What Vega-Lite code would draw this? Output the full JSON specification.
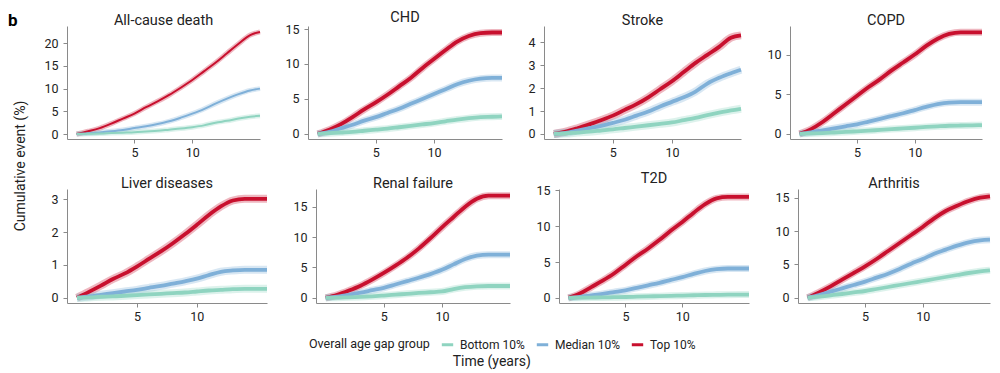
{
  "$schema": "https://vega.github.io/schema/vega-lite/v6.json",
  "padding": {"left": 7, "top": 9, "right": 5, "bottom": 3},
  "title": {"text": "b", "anchor": "start", "fontSize": 17, "fontWeight": "bold", "color": "#000", "offset": -20, "dx": -6, "frame": "bounds"},
  "config": {
    "font": "Roboto",
    "view": {"stroke": null},
    "title": {"fontSize": 14.5, "fontWeight": "normal", "color": "#222", "offset": -2},
    "axis": {"domainColor": "#8a8a8a", "tickColor": "#8a8a8a", "labelColor": "#222", "labelFontSize": 12.5, "tickSize": 4, "labelPadding": 5, "grid": false, "title": null, "minExtent": 0},
    "axisX": {"labelPadding": 3},
    "line": {"clip": true, "strokeJoin": "round", "interpolate": "monotone"},
    "legend": {"orient": "none", "legendX": 242, "legendY": 311, "direction": "horizontal", "titleOrient": "left", "titleFontSize": 12.5, "titleFontWeight": "normal", "titleColor": "#222", "labelFontSize": 12, "labelColor": "#222", "symbolType": "stroke", "symbolStrokeWidth": 3, "symbolSize": 130, "symbolOpacity": 1, "columnPadding": 10, "titlePadding": 10, "labelOffset": 5}
  },
  "datasets": {
    "ac": [
      {"g":"Top 10%","t":0,"v":0},{"g":"Top 10%","t":1,"v":0.6},{"g":"Top 10%","t":2,"v":1.3},{"g":"Top 10%","t":3,"v":2.3},{"g":"Top 10%","t":4,"v":3.4},{"g":"Top 10%","t":5,"v":4.5},{"g":"Top 10%","t":6,"v":5.9},{"g":"Top 10%","t":7,"v":7.2},{"g":"Top 10%","t":8,"v":8.6},{"g":"Top 10%","t":9,"v":10.2},{"g":"Top 10%","t":10,"v":11.9},{"g":"Top 10%","t":11,"v":13.8},{"g":"Top 10%","t":12,"v":15.7},{"g":"Top 10%","t":13,"v":17.8},{"g":"Top 10%","t":14,"v":19.9},{"g":"Top 10%","t":15,"v":21.8},{"g":"Top 10%","t":15.85,"v":22.5},
      {"g":"Median 10%","t":0,"v":0},{"g":"Median 10%","t":1,"v":0.15},{"g":"Median 10%","t":2,"v":0.35},{"g":"Median 10%","t":3,"v":0.6},{"g":"Median 10%","t":4,"v":0.9},{"g":"Median 10%","t":5,"v":1.3},{"g":"Median 10%","t":6,"v":1.7},{"g":"Median 10%","t":7,"v":2.2},{"g":"Median 10%","t":8,"v":2.8},{"g":"Median 10%","t":9,"v":3.6},{"g":"Median 10%","t":10,"v":4.5},{"g":"Median 10%","t":11,"v":5.5},{"g":"Median 10%","t":12,"v":6.7},{"g":"Median 10%","t":13,"v":7.8},{"g":"Median 10%","t":14,"v":8.8},{"g":"Median 10%","t":15,"v":9.6},{"g":"Median 10%","t":15.85,"v":10.0},
      {"g":"Bottom 10%","t":0,"v":0},{"g":"Bottom 10%","t":1,"v":0.05},{"g":"Bottom 10%","t":2,"v":0.1},{"g":"Bottom 10%","t":3,"v":0.2},{"g":"Bottom 10%","t":4,"v":0.3},{"g":"Bottom 10%","t":5,"v":0.4},{"g":"Bottom 10%","t":6,"v":0.55},{"g":"Bottom 10%","t":7,"v":0.7},{"g":"Bottom 10%","t":8,"v":0.95},{"g":"Bottom 10%","t":9,"v":1.2},{"g":"Bottom 10%","t":10,"v":1.5},{"g":"Bottom 10%","t":11,"v":1.9},{"g":"Bottom 10%","t":12,"v":2.5},{"g":"Bottom 10%","t":13,"v":2.9},{"g":"Bottom 10%","t":14,"v":3.4},{"g":"Bottom 10%","t":15,"v":3.8},{"g":"Bottom 10%","t":15.85,"v":4.0}
    ],
    "chd": [
      {"g":"Top 10%","t":0,"v":0},{"g":"Top 10%","t":1,"v":0.6},{"g":"Top 10%","t":2,"v":1.4},{"g":"Top 10%","t":3,"v":2.4},{"g":"Top 10%","t":4,"v":3.5},{"g":"Top 10%","t":5,"v":4.5},{"g":"Top 10%","t":6,"v":5.6},{"g":"Top 10%","t":7,"v":6.8},{"g":"Top 10%","t":8,"v":8.0},{"g":"Top 10%","t":9,"v":9.4},{"g":"Top 10%","t":10,"v":10.7},{"g":"Top 10%","t":11,"v":12.0},{"g":"Top 10%","t":12,"v":13.2},{"g":"Top 10%","t":13,"v":14.0},{"g":"Top 10%","t":14,"v":14.4},{"g":"Top 10%","t":15,"v":14.5},{"g":"Top 10%","t":15.85,"v":14.5},
      {"g":"Median 10%","t":0,"v":0},{"g":"Median 10%","t":1,"v":0.3},{"g":"Median 10%","t":2,"v":0.8},{"g":"Median 10%","t":3,"v":1.3},{"g":"Median 10%","t":4,"v":1.9},{"g":"Median 10%","t":5,"v":2.4},{"g":"Median 10%","t":6,"v":3.0},{"g":"Median 10%","t":7,"v":3.6},{"g":"Median 10%","t":8,"v":4.3},{"g":"Median 10%","t":9,"v":5.0},{"g":"Median 10%","t":10,"v":5.7},{"g":"Median 10%","t":11,"v":6.4},{"g":"Median 10%","t":12,"v":7.1},{"g":"Median 10%","t":13,"v":7.6},{"g":"Median 10%","t":14,"v":7.9},{"g":"Median 10%","t":15,"v":8.0},{"g":"Median 10%","t":15.85,"v":8.0},
      {"g":"Bottom 10%","t":0,"v":0},{"g":"Bottom 10%","t":1,"v":0.1},{"g":"Bottom 10%","t":2,"v":0.2},{"g":"Bottom 10%","t":3,"v":0.3},{"g":"Bottom 10%","t":4,"v":0.45},{"g":"Bottom 10%","t":5,"v":0.6},{"g":"Bottom 10%","t":6,"v":0.75},{"g":"Bottom 10%","t":7,"v":0.95},{"g":"Bottom 10%","t":8,"v":1.15},{"g":"Bottom 10%","t":9,"v":1.35},{"g":"Bottom 10%","t":10,"v":1.55},{"g":"Bottom 10%","t":11,"v":1.8},{"g":"Bottom 10%","t":12,"v":2.05},{"g":"Bottom 10%","t":13,"v":2.25},{"g":"Bottom 10%","t":14,"v":2.4},{"g":"Bottom 10%","t":15,"v":2.45},{"g":"Bottom 10%","t":15.85,"v":2.5}
    ],
    "stroke": [
      {"g":"Top 10%","t":0,"v":0},{"g":"Top 10%","t":1,"v":0.1},{"g":"Top 10%","t":2,"v":0.25},{"g":"Top 10%","t":3,"v":0.42},{"g":"Top 10%","t":4,"v":0.6},{"g":"Top 10%","t":5,"v":0.8},{"g":"Top 10%","t":6,"v":1.05},{"g":"Top 10%","t":7,"v":1.3},{"g":"Top 10%","t":8,"v":1.6},{"g":"Top 10%","t":9,"v":1.95},{"g":"Top 10%","t":10,"v":2.3},{"g":"Top 10%","t":11,"v":2.7},{"g":"Top 10%","t":12,"v":3.1},{"g":"Top 10%","t":13,"v":3.45},{"g":"Top 10%","t":14,"v":3.8},{"g":"Top 10%","t":15,"v":4.2},{"g":"Top 10%","t":15.85,"v":4.3},
      {"g":"Median 10%","t":0,"v":0},{"g":"Median 10%","t":1,"v":0.05},{"g":"Median 10%","t":2,"v":0.15},{"g":"Median 10%","t":3,"v":0.25},{"g":"Median 10%","t":4,"v":0.35},{"g":"Median 10%","t":5,"v":0.48},{"g":"Median 10%","t":6,"v":0.62},{"g":"Median 10%","t":7,"v":0.8},{"g":"Median 10%","t":8,"v":0.98},{"g":"Median 10%","t":9,"v":1.2},{"g":"Median 10%","t":10,"v":1.4},{"g":"Median 10%","t":11,"v":1.6},{"g":"Median 10%","t":12,"v":1.85},{"g":"Median 10%","t":13,"v":2.2},{"g":"Median 10%","t":14,"v":2.45},{"g":"Median 10%","t":15,"v":2.65},{"g":"Median 10%","t":15.85,"v":2.8},
      {"g":"Bottom 10%","t":0,"v":0},{"g":"Bottom 10%","t":1,"v":0.02},{"g":"Bottom 10%","t":2,"v":0.06},{"g":"Bottom 10%","t":3,"v":0.1},{"g":"Bottom 10%","t":4,"v":0.15},{"g":"Bottom 10%","t":5,"v":0.2},{"g":"Bottom 10%","t":6,"v":0.26},{"g":"Bottom 10%","t":7,"v":0.32},{"g":"Bottom 10%","t":8,"v":0.38},{"g":"Bottom 10%","t":9,"v":0.44},{"g":"Bottom 10%","t":10,"v":0.5},{"g":"Bottom 10%","t":11,"v":0.6},{"g":"Bottom 10%","t":12,"v":0.7},{"g":"Bottom 10%","t":13,"v":0.82},{"g":"Bottom 10%","t":14,"v":0.93},{"g":"Bottom 10%","t":15,"v":1.03},{"g":"Bottom 10%","t":15.85,"v":1.1}
    ],
    "copd": [
      {"g":"Top 10%","t":0,"v":0},{"g":"Top 10%","t":1,"v":0.6},{"g":"Top 10%","t":2,"v":1.5},{"g":"Top 10%","t":3,"v":2.6},{"g":"Top 10%","t":4,"v":3.7},{"g":"Top 10%","t":5,"v":4.8},{"g":"Top 10%","t":6,"v":5.9},{"g":"Top 10%","t":7,"v":6.9},{"g":"Top 10%","t":8,"v":8.0},{"g":"Top 10%","t":9,"v":9.0},{"g":"Top 10%","t":10,"v":10.0},{"g":"Top 10%","t":11,"v":11.1},{"g":"Top 10%","t":12,"v":12.0},{"g":"Top 10%","t":13,"v":12.6},{"g":"Top 10%","t":14,"v":12.8},{"g":"Top 10%","t":15,"v":12.8},{"g":"Top 10%","t":15.85,"v":12.8},
      {"g":"Median 10%","t":0,"v":0},{"g":"Median 10%","t":1,"v":0.2},{"g":"Median 10%","t":2,"v":0.45},{"g":"Median 10%","t":3,"v":0.7},{"g":"Median 10%","t":4,"v":0.95},{"g":"Median 10%","t":5,"v":1.2},{"g":"Median 10%","t":6,"v":1.55},{"g":"Median 10%","t":7,"v":1.9},{"g":"Median 10%","t":8,"v":2.25},{"g":"Median 10%","t":9,"v":2.6},{"g":"Median 10%","t":10,"v":3.0},{"g":"Median 10%","t":11,"v":3.4},{"g":"Median 10%","t":12,"v":3.75},{"g":"Median 10%","t":13,"v":3.95},{"g":"Median 10%","t":14,"v":4.0},{"g":"Median 10%","t":15,"v":4.0},{"g":"Median 10%","t":15.85,"v":4.0},
      {"g":"Bottom 10%","t":0,"v":0},{"g":"Bottom 10%","t":1,"v":0.05},{"g":"Bottom 10%","t":2,"v":0.1},{"g":"Bottom 10%","t":3,"v":0.17},{"g":"Bottom 10%","t":4,"v":0.24},{"g":"Bottom 10%","t":5,"v":0.32},{"g":"Bottom 10%","t":6,"v":0.4},{"g":"Bottom 10%","t":7,"v":0.5},{"g":"Bottom 10%","t":8,"v":0.6},{"g":"Bottom 10%","t":9,"v":0.68},{"g":"Bottom 10%","t":10,"v":0.77},{"g":"Bottom 10%","t":11,"v":0.87},{"g":"Bottom 10%","t":12,"v":0.95},{"g":"Bottom 10%","t":13,"v":1.02},{"g":"Bottom 10%","t":14,"v":1.05},{"g":"Bottom 10%","t":15,"v":1.07},{"g":"Bottom 10%","t":15.85,"v":1.1}
    ],
    "liver": [
      {"g":"Top 10%","t":0,"v":0},{"g":"Top 10%","t":1,"v":0.18},{"g":"Top 10%","t":2,"v":0.37},{"g":"Top 10%","t":3,"v":0.57},{"g":"Top 10%","t":4,"v":0.74},{"g":"Top 10%","t":5,"v":0.95},{"g":"Top 10%","t":6,"v":1.18},{"g":"Top 10%","t":7,"v":1.41},{"g":"Top 10%","t":8,"v":1.66},{"g":"Top 10%","t":9,"v":1.93},{"g":"Top 10%","t":10,"v":2.22},{"g":"Top 10%","t":11,"v":2.52},{"g":"Top 10%","t":12,"v":2.78},{"g":"Top 10%","t":13,"v":2.96},{"g":"Top 10%","t":14,"v":3.01},{"g":"Top 10%","t":15,"v":3.01},{"g":"Top 10%","t":15.85,"v":3.01},
      {"g":"Median 10%","t":0,"v":0},{"g":"Median 10%","t":1,"v":0.04},{"g":"Median 10%","t":2,"v":0.09},{"g":"Median 10%","t":3,"v":0.14},{"g":"Median 10%","t":4,"v":0.19},{"g":"Median 10%","t":5,"v":0.24},{"g":"Median 10%","t":6,"v":0.3},{"g":"Median 10%","t":7,"v":0.36},{"g":"Median 10%","t":8,"v":0.43},{"g":"Median 10%","t":9,"v":0.5},{"g":"Median 10%","t":10,"v":0.58},{"g":"Median 10%","t":11,"v":0.69},{"g":"Median 10%","t":12,"v":0.79},{"g":"Median 10%","t":13,"v":0.83},{"g":"Median 10%","t":14,"v":0.85},{"g":"Median 10%","t":15,"v":0.85},{"g":"Median 10%","t":15.85,"v":0.85},
      {"g":"Bottom 10%","t":0,"v":0},{"g":"Bottom 10%","t":1,"v":0.01},{"g":"Bottom 10%","t":2,"v":0.03},{"g":"Bottom 10%","t":3,"v":0.04},{"g":"Bottom 10%","t":4,"v":0.06},{"g":"Bottom 10%","t":5,"v":0.08},{"g":"Bottom 10%","t":6,"v":0.1},{"g":"Bottom 10%","t":7,"v":0.12},{"g":"Bottom 10%","t":8,"v":0.14},{"g":"Bottom 10%","t":9,"v":0.16},{"g":"Bottom 10%","t":10,"v":0.19},{"g":"Bottom 10%","t":11,"v":0.22},{"g":"Bottom 10%","t":12,"v":0.24},{"g":"Bottom 10%","t":13,"v":0.26},{"g":"Bottom 10%","t":14,"v":0.27},{"g":"Bottom 10%","t":15,"v":0.27},{"g":"Bottom 10%","t":15.85,"v":0.27}
    ],
    "renal": [
      {"g":"Top 10%","t":0,"v":0},{"g":"Top 10%","t":1,"v":0.5},{"g":"Top 10%","t":2,"v":1.2},{"g":"Top 10%","t":3,"v":2.0},{"g":"Top 10%","t":4,"v":3.0},{"g":"Top 10%","t":5,"v":4.1},{"g":"Top 10%","t":6,"v":5.3},{"g":"Top 10%","t":7,"v":6.6},{"g":"Top 10%","t":8,"v":8.1},{"g":"Top 10%","t":9,"v":9.8},{"g":"Top 10%","t":10,"v":11.6},{"g":"Top 10%","t":11,"v":13.3},{"g":"Top 10%","t":12,"v":15.0},{"g":"Top 10%","t":13,"v":16.3},{"g":"Top 10%","t":14,"v":16.8},{"g":"Top 10%","t":15,"v":16.8},{"g":"Top 10%","t":15.85,"v":16.8},
      {"g":"Median 10%","t":0,"v":0},{"g":"Median 10%","t":1,"v":0.2},{"g":"Median 10%","t":2,"v":0.5},{"g":"Median 10%","t":3,"v":0.85},{"g":"Median 10%","t":4,"v":1.25},{"g":"Median 10%","t":5,"v":1.65},{"g":"Median 10%","t":6,"v":2.2},{"g":"Median 10%","t":7,"v":2.75},{"g":"Median 10%","t":8,"v":3.3},{"g":"Median 10%","t":9,"v":3.9},{"g":"Median 10%","t":10,"v":4.6},{"g":"Median 10%","t":11,"v":5.5},{"g":"Median 10%","t":12,"v":6.4},{"g":"Median 10%","t":13,"v":6.95},{"g":"Median 10%","t":14,"v":7.1},{"g":"Median 10%","t":15,"v":7.1},{"g":"Median 10%","t":15.85,"v":7.1},
      {"g":"Bottom 10%","t":0,"v":0},{"g":"Bottom 10%","t":1,"v":0.03},{"g":"Bottom 10%","t":2,"v":0.08},{"g":"Bottom 10%","t":3,"v":0.15},{"g":"Bottom 10%","t":4,"v":0.25},{"g":"Bottom 10%","t":5,"v":0.38},{"g":"Bottom 10%","t":6,"v":0.52},{"g":"Bottom 10%","t":7,"v":0.66},{"g":"Bottom 10%","t":8,"v":0.8},{"g":"Bottom 10%","t":9,"v":0.92},{"g":"Bottom 10%","t":10,"v":1.05},{"g":"Bottom 10%","t":11,"v":1.45},{"g":"Bottom 10%","t":12,"v":1.75},{"g":"Bottom 10%","t":13,"v":1.9},{"g":"Bottom 10%","t":14,"v":1.95},{"g":"Bottom 10%","t":15,"v":1.95},{"g":"Bottom 10%","t":15.85,"v":1.95}
    ],
    "t2d": [
      {"g":"Top 10%","t":0,"v":0},{"g":"Top 10%","t":1,"v":0.6},{"g":"Top 10%","t":2,"v":1.5},{"g":"Top 10%","t":3,"v":2.4},{"g":"Top 10%","t":4,"v":3.4},{"g":"Top 10%","t":5,"v":4.6},{"g":"Top 10%","t":6,"v":5.8},{"g":"Top 10%","t":7,"v":6.9},{"g":"Top 10%","t":8,"v":8.1},{"g":"Top 10%","t":9,"v":9.4},{"g":"Top 10%","t":10,"v":10.6},{"g":"Top 10%","t":11,"v":11.9},{"g":"Top 10%","t":12,"v":13.1},{"g":"Top 10%","t":13,"v":13.9},{"g":"Top 10%","t":14,"v":14.1},{"g":"Top 10%","t":15,"v":14.1},{"g":"Top 10%","t":15.85,"v":14.1},
      {"g":"Median 10%","t":0,"v":0},{"g":"Median 10%","t":1,"v":0.15},{"g":"Median 10%","t":2,"v":0.35},{"g":"Median 10%","t":3,"v":0.55},{"g":"Median 10%","t":4,"v":0.8},{"g":"Median 10%","t":5,"v":1.05},{"g":"Median 10%","t":6,"v":1.4},{"g":"Median 10%","t":7,"v":1.75},{"g":"Median 10%","t":8,"v":2.1},{"g":"Median 10%","t":9,"v":2.5},{"g":"Median 10%","t":10,"v":2.9},{"g":"Median 10%","t":11,"v":3.35},{"g":"Median 10%","t":12,"v":3.75},{"g":"Median 10%","t":13,"v":4.0},{"g":"Median 10%","t":14,"v":4.1},{"g":"Median 10%","t":15,"v":4.1},{"g":"Median 10%","t":15.85,"v":4.1},
      {"g":"Bottom 10%","t":0,"v":0},{"g":"Bottom 10%","t":1,"v":0.02},{"g":"Bottom 10%","t":2,"v":0.04},{"g":"Bottom 10%","t":3,"v":0.06},{"g":"Bottom 10%","t":4,"v":0.09},{"g":"Bottom 10%","t":5,"v":0.12},{"g":"Bottom 10%","t":6,"v":0.16},{"g":"Bottom 10%","t":7,"v":0.2},{"g":"Bottom 10%","t":8,"v":0.24},{"g":"Bottom 10%","t":9,"v":0.28},{"g":"Bottom 10%","t":10,"v":0.32},{"g":"Bottom 10%","t":11,"v":0.36},{"g":"Bottom 10%","t":12,"v":0.4},{"g":"Bottom 10%","t":13,"v":0.42},{"g":"Bottom 10%","t":14,"v":0.44},{"g":"Bottom 10%","t":15,"v":0.45},{"g":"Bottom 10%","t":15.85,"v":0.45}
    ],
    "arth": [
      {"g":"Top 10%","t":0,"v":0},{"g":"Top 10%","t":1,"v":0.8},{"g":"Top 10%","t":2,"v":1.7},{"g":"Top 10%","t":3,"v":2.7},{"g":"Top 10%","t":4,"v":3.7},{"g":"Top 10%","t":5,"v":4.7},{"g":"Top 10%","t":6,"v":5.8},{"g":"Top 10%","t":7,"v":7.0},{"g":"Top 10%","t":8,"v":8.2},{"g":"Top 10%","t":9,"v":9.4},{"g":"Top 10%","t":10,"v":10.6},{"g":"Top 10%","t":11,"v":11.9},{"g":"Top 10%","t":12,"v":13.0},{"g":"Top 10%","t":13,"v":13.8},{"g":"Top 10%","t":14,"v":14.5},{"g":"Top 10%","t":15,"v":15.0},{"g":"Top 10%","t":15.85,"v":15.2},
      {"g":"Median 10%","t":0,"v":0},{"g":"Median 10%","t":1,"v":0.4},{"g":"Median 10%","t":2,"v":0.9},{"g":"Median 10%","t":3,"v":1.4},{"g":"Median 10%","t":4,"v":1.9},{"g":"Median 10%","t":5,"v":2.4},{"g":"Median 10%","t":6,"v":3.0},{"g":"Median 10%","t":7,"v":3.6},{"g":"Median 10%","t":8,"v":4.3},{"g":"Median 10%","t":9,"v":5.1},{"g":"Median 10%","t":10,"v":5.8},{"g":"Median 10%","t":11,"v":6.6},{"g":"Median 10%","t":12,"v":7.2},{"g":"Median 10%","t":13,"v":7.8},{"g":"Median 10%","t":14,"v":8.3},{"g":"Median 10%","t":15,"v":8.6},{"g":"Median 10%","t":15.85,"v":8.7},
      {"g":"Bottom 10%","t":0,"v":0},{"g":"Bottom 10%","t":1,"v":0.15},{"g":"Bottom 10%","t":2,"v":0.35},{"g":"Bottom 10%","t":3,"v":0.55},{"g":"Bottom 10%","t":4,"v":0.78},{"g":"Bottom 10%","t":5,"v":1.0},{"g":"Bottom 10%","t":6,"v":1.3},{"g":"Bottom 10%","t":7,"v":1.6},{"g":"Bottom 10%","t":8,"v":1.9},{"g":"Bottom 10%","t":9,"v":2.2},{"g":"Bottom 10%","t":10,"v":2.5},{"g":"Bottom 10%","t":11,"v":2.8},{"g":"Bottom 10%","t":12,"v":3.1},{"g":"Bottom 10%","t":13,"v":3.4},{"g":"Bottom 10%","t":14,"v":3.7},{"g":"Bottom 10%","t":15,"v":3.95},{"g":"Bottom 10%","t":15.85,"v":4.1}
    ]
  },
  "vconcat": [{
    "title": {"text": "Time (years)", "orient": "bottom", "anchor": "middle", "fontSize": 14, "offset": 32, "dx": -12},
    "vconcat": [{
      "title": {"text": "Cumulative event (%)", "orient": "left", "anchor": "middle", "fontSize": 14, "offset": 16},
      "spacing": 11,
      "vconcat": [
        {"spacing": 21, "hconcat": [
          {"width": 193, "height": 113, "title": "All-cause death", "data": {"name": "ac"},
           "encoding": {
             "x": {"field": "t", "type": "quantitative", "scale": {"domain": [-0.83, 15.85], "nice": false, "zero": false}, "axis": {"values": [5, 10]}},
             "y": {"field": "v", "type": "quantitative", "scale": {"domain": [-1.1, 23.8], "nice": false, "zero": false}, "axis": {"values": [0, 5, 10, 15, 20]}},
             "color": {"field": "g", "type": "nominal", "scale": {"domain": ["Bottom 10%", "Median 10%", "Top 10%"], "range": ["#8fd4c0", "#7fb0d8", "#c8102e"]}, "legend": {"title": "Overall age gap group"}}
           },
           "layer": [
             {"mark": {"type": "line", "strokeWidth": 5, "opacity": 0.3}},
             {"mark": {"type": "line", "strokeWidth": 2}}
           ]},
          {"width": 194, "height": 113, "title": "CHD", "data": {"name": "chd"},
           "encoding": {
             "x": {"field": "t", "type": "quantitative", "scale": {"domain": [-0.83, 15.85], "nice": false, "zero": false}, "axis": {"values": [5, 10]}},
             "y": {"field": "v", "type": "quantitative", "scale": {"domain": [-0.73, 15.43], "nice": false, "zero": false}, "axis": {"values": [0, 5, 10, 15]}},
             "color": {"field": "g", "type": "nominal", "legend": {"title": "Overall age gap group"}}
           },
           "layer": [
             {"mark": {"type": "line", "strokeWidth": 7, "opacity": 0.3}},
             {"mark": {"type": "line", "strokeWidth": 3.8}}
           ]},
          {"width": 197, "height": 113, "title": "Stroke", "data": {"name": "stroke"},
           "encoding": {
             "x": {"field": "t", "type": "quantitative", "scale": {"domain": [-0.83, 15.85], "nice": false, "zero": false}, "axis": {"values": [5, 10]}},
             "y": {"field": "v", "type": "quantitative", "scale": {"domain": [-0.22, 4.71], "nice": false, "zero": false}, "axis": {"values": [0, 1, 2, 3, 4]}},
             "color": {"field": "g", "type": "nominal", "legend": {"title": "Overall age gap group"}}
           },
           "layer": [
             {"mark": {"type": "line", "strokeWidth": 8, "opacity": 0.3}},
             {"mark": {"type": "line", "strokeWidth": 3.8}}
           ]},
          {"width": 192, "height": 113, "title": "COPD", "data": {"name": "copd"},
           "encoding": {
             "x": {"field": "t", "type": "quantitative", "scale": {"domain": [-0.83, 15.85], "nice": false, "zero": false}, "axis": {"values": [5, 10]}},
             "y": {"field": "v", "type": "quantitative", "scale": {"domain": [-0.65, 13.6], "nice": false, "zero": false}, "axis": {"values": [0, 5, 10]}},
             "color": {"field": "g", "type": "nominal", "legend": {"title": "Overall age gap group"}}
           },
           "layer": [
             {"mark": {"type": "line", "strokeWidth": 7, "opacity": 0.3}},
             {"mark": {"type": "line", "strokeWidth": 3.8}}
           ]}
        ]},
        {"spacing": 21, "hconcat": [
          {"width": 200, "height": 114, "title": "Liver diseases", "data": {"name": "liver"},
           "encoding": {
             "x": {"field": "t", "type": "quantitative", "scale": {"domain": [-0.83, 15.85], "nice": false, "zero": false}, "axis": {"values": [5, 10]}},
             "y": {"field": "v", "type": "quantitative", "scale": {"domain": [-0.16, 3.31], "nice": false, "zero": false}, "axis": {"values": [0, 1, 2, 3]}},
             "color": {"field": "g", "type": "nominal", "legend": {"title": "Overall age gap group"}}
           },
           "layer": [
             {"mark": {"type": "line", "strokeWidth": 8, "opacity": 0.3}},
             {"mark": {"type": "line", "strokeWidth": 3.8}}
           ]},
          {"width": 194, "height": 114, "title": "Renal failure", "data": {"name": "renal"},
           "encoding": {
             "x": {"field": "t", "type": "quantitative", "scale": {"domain": [-0.83, 15.85], "nice": false, "zero": false}, "axis": {"values": [5, 10]}},
             "y": {"field": "v", "type": "quantitative", "scale": {"domain": [-0.85, 17.9], "nice": false, "zero": false}, "axis": {"values": [0, 5, 10, 15]}},
             "color": {"field": "g", "type": "nominal", "legend": {"title": "Overall age gap group"}}
           },
           "layer": [
             {"mark": {"type": "line", "strokeWidth": 7, "opacity": 0.3}},
             {"mark": {"type": "line", "strokeWidth": 3.8}}
           ]},
          {"width": 190, "height": 114, "title": "T2D", "data": {"name": "t2d"},
           "encoding": {
             "x": {"field": "t", "type": "quantitative", "scale": {"domain": [-0.83, 15.85], "nice": false, "zero": false}, "axis": {"values": [5, 10]}},
             "y": {"field": "v", "type": "quantitative", "scale": {"domain": [-0.72, 15.2], "nice": false, "zero": false}, "axis": {"values": [0, 5, 10, 15]}},
             "color": {"field": "g", "type": "nominal", "legend": {"title": "Overall age gap group"}}
           },
           "layer": [
             {"mark": {"type": "line", "strokeWidth": 7, "opacity": 0.3}},
             {"mark": {"type": "line", "strokeWidth": 3.8}}
           ]},
          {"width": 192, "height": 114, "title": "Arthritis", "data": {"name": "arth"},
           "encoding": {
             "x": {"field": "t", "type": "quantitative", "scale": {"domain": [-0.83, 15.85], "nice": false, "zero": false}, "axis": {"values": [5, 10]}},
             "y": {"field": "v", "type": "quantitative", "scale": {"domain": [-0.8, 16.3], "nice": false, "zero": false}, "axis": {"values": [0, 5, 10, 15]}},
             "color": {"field": "g", "type": "nominal", "legend": {"title": "Overall age gap group"}}
           },
           "layer": [
             {"mark": {"type": "line", "strokeWidth": 7, "opacity": 0.3}},
             {"mark": {"type": "line", "strokeWidth": 3.8}}
           ]}
        ]}
      ]
    }]
  }]
}
